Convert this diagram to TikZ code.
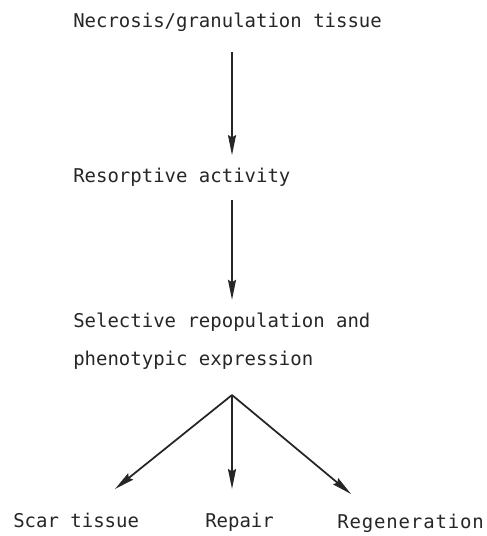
\documentclass[tikz,border=0pt]{standalone}
\usepackage{fontspec}
\newfontfamily\stagefont{DejaVu Sans Mono}
\usetikzlibrary{arrows.meta}

\begin{document}
\begin{tikzpicture}
        [x=0.025cm, y=-0.025cm,
        stage/.style={inner sep=0, anchor=base west, align=left, text=black!85, font=\stagefont\fontsize{13.5}{27}\selectfont},
        arr/.style={line width=1.25pt, draw=black!85, -{Stealth[length=0.5cm, width=0.2cm, inset=0.06cm]}}]
        \useasboundingbox (0,0) rectangle (486,536);
        \node[stage] (nec) at (73,28) {Necrosis/granulation tissue};
        \node[stage] (res) at (73,183) {Resorptive activity};
        \node[stage] (sel) at (73,365) {Selective repopulation and\\phenotypic expression};
        \node[stage] (scar) at (13,527) {Scar tissue};
        \node[stage] (rep) at (205,527) {Repair};
        \node[stage] (reg) at (337,528) {\addfontfeatures{LetterSpace=4.5}Regeneration};

        \coordinate (br) at (232,395);
        \coordinate (scarTip) at (115,489);
        \coordinate (repTip) at (232,489);
        \coordinate (regTip) at (351,494);

        \draw[arr, shorten <=0.48cm, shorten >=0.33cm] (nec.south -| br) -- (res.north -| br);
        \draw[arr, shorten <=0.31cm, shorten >=0.31cm] (res.south -| br) -- (sel.north -| br);
        \draw[arr] (br) -- (scarTip);
        \draw[arr] (br) -- (repTip);
        \draw[arr] (br) -- (regTip);

    \end{tikzpicture}
\end{document}
